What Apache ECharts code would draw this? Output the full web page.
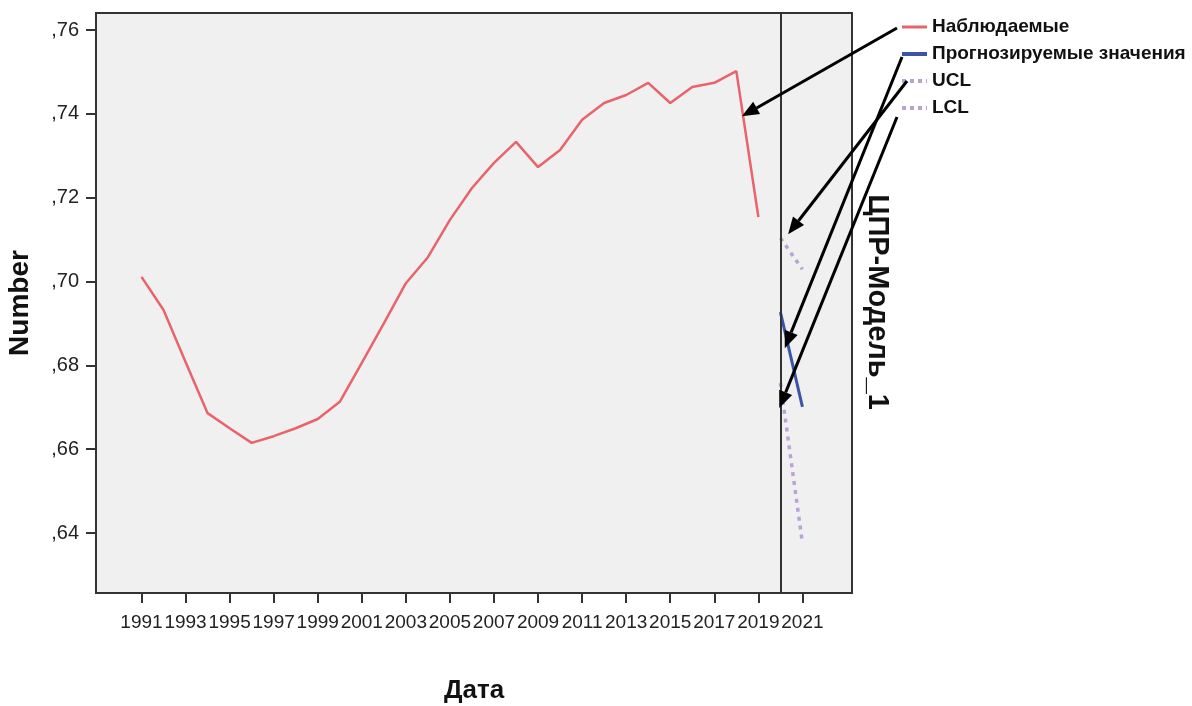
<!DOCTYPE html>
<html>
<head>
<meta charset="utf-8">
<script src="https://cdn.jsdelivr.net/npm/echarts@6/dist/echarts.min.js"></script>
<style>
html,body{margin:0;padding:0;background:#fff;}
#c{width:1192px;height:706px;}
</style>
</head>
<body>
<div id="c"></div>
<script>
// ---- data ----
const years = [1991,1992,1993,1994,1995,1996,1997,1998,1999,2000,2001,2002,2003,2004,2005,2006,2007,2008,2009,2010,2011,2012,2013,2014,2015,2016,2017,2018,2019];
const observed = [0.7011,0.6932,0.6808,0.6686,0.6650,0.6615,0.6631,0.6650,0.6672,0.6713,0.6806,0.6900,0.6996,0.7058,0.7147,0.7223,0.7283,0.7333,0.7273,0.7314,0.7386,0.7426,0.7445,0.7474,0.7426,0.7464,0.7474,0.7502,0.7154];
const forecastYears = [2020, 2021];
const forecast = [0.6927, 0.6701];
const ucl = [0.7104, 0.7029];
const lcl = [0.6758, 0.6376];
const xTickLabels = [1991,1993,1995,1997,1999,2001,2003,2005,2007,2009,2011,2013,2015,2017,2019,2021];
const yTickLabels = [0.64,0.66,0.68,0.70,0.72,0.74,0.76];
const forecastStart = 2020;
const seriesNames = ['Наблюдаемые','Прогнозируемые значения','UCL','LCL'];
const panelLabel = 'ЦПР-Модель_1';
// annotation arrows: tail in pixels (from legend), tip in data coords
const arrows = [
  {tail:[897,28], tip:[2018.25, 0.7394]},
  {tail:[902,57], tip:[2020.2, 0.6841]},
  {tail:[907,81], tip:[2020.35, 0.7113]},
  {tail:[897,117], tip:[2019.95, 0.6698]}
];

const pair = (xs, ys) => xs.map((x,i)=>[x, ys[i]]);

const chart = echarts.init(document.getElementById('c'));
const axisColor = '#333';
const red = '#e8636a', blue = '#3a55a6', lilac = '#b7a4d4';
chart.setOption({
  animation:false,
  backgroundColor:'#fff',
  grid:{left:96, top:13, width:756, height:580, show:true, backgroundColor:'#f0f0f0', borderColor:axisColor, borderWidth:2,
        containLabel:false, outerBoundsMode:'none'},
  legend:{
    orient:'vertical', left:900, top:17, padding:0, itemWidth:25, itemHeight:14, itemGap:7,
    data:[
      {name:seriesNames[0], lineStyle:{width:3, color:red}},
      {name:seriesNames[1], lineStyle:{width:4, color:blue}},
      {name:seriesNames[2], lineStyle:{width:4, color:lilac, type:[4,4]}},
      {name:seriesNames[3], lineStyle:{width:4, color:lilac, type:[4,4]}}
    ],
    itemStyle:{opacity:0},
    textStyle:{fontFamily:'Liberation Sans', fontWeight:'bold', fontSize:19, color:'#111', lineHeight:20}
  },
  xAxis:{
    type:'value', min:1988.935, max:2023.25,
    splitLine:{show:false},
    axisLine:{show:true, lineStyle:{color:axisColor, width:2}},
    axisTick:{show:true, length:10, customValues:xTickLabels, lineStyle:{color:axisColor, width:2}},
    axisLabel:{customValues:xTickLabels, showMinLabel:true, showMaxLabel:true, hideOverlap:false,
      formatter:v=>String(v), margin:20, color:'#222', fontFamily:'Liberation Sans', fontSize:19},
    name:'Дата', nameLocation:'middle', nameGap:85,
    nameTextStyle:{fontFamily:'Liberation Sans', fontWeight:'bold', fontSize:26, color:'#111'}
  },
  yAxis:{
    type:'value', min:0.62569, max:0.76406,
    splitLine:{show:false},
    axisLine:{show:true, lineStyle:{color:axisColor, width:2}},
    axisTick:{show:true, length:10, customValues:yTickLabels, lineStyle:{color:axisColor, width:2}},
    axisLabel:{customValues:yTickLabels, showMinLabel:true, showMaxLabel:true,
      formatter:v=>','+v.toFixed(2).slice(2), margin:17, color:'#222', fontFamily:'Liberation Sans', fontSize:20},
    name:'Number', nameLocation:'middle', nameGap:62, nameRotate:90,
    nameTextStyle:{fontFamily:'Liberation Sans', fontWeight:'bold', fontSize:28, color:'#111'}
  },
  series:[
    {name:seriesNames[0], type:'line', data:pair(years, observed), symbol:'none',
     lineStyle:{color:red, width:2.5}, itemStyle:{color:red},
     markLine:{silent:true, symbol:'none', label:{show:false}, data:[{xAxis:forecastStart}],
       lineStyle:{color:axisColor, width:2, type:'solid'}}},
    {name:seriesNames[1], type:'line', data:pair(forecastYears, forecast), symbol:'none',
     lineStyle:{color:blue, width:3}, itemStyle:{color:blue}},
    {name:seriesNames[2], type:'line', data:pair(forecastYears, ucl), symbol:'none',
     lineStyle:{color:lilac, width:3.5, type:[4,5]}, itemStyle:{color:lilac}},
    {name:seriesNames[3], type:'line', data:pair(forecastYears, lcl), symbol:'none',
     lineStyle:{color:lilac, width:3.5, type:[4,5]}, itemStyle:{color:lilac}}
  ]
});

// annotation graphics
const g = [];
g.push({type:'text', x:877, y:302, rotation:-Math.PI/2,
  style:{text:panelLabel, align:'center', verticalAlign:'middle', fill:'#111',
         font:'bold 29px "Liberation Sans"'}});
arrows.forEach(a=>{
  const tip = chart.convertToPixel({gridIndex:0}, a.tip);
  const [tx,ty] = a.tail;
  const dx = tip[0]-tx, dy = tip[1]-ty;
  const len = Math.sqrt(dx*dx+dy*dy);
  const ux = dx/len, uy = dy/len;
  const headL = 17, headW = 7;
  const bx = tip[0]-ux*headL, by = tip[1]-uy*headL;
  g.push({type:'line', shape:{x1:tx, y1:ty, x2:bx, y2:by}, style:{stroke:'#000', lineWidth:3}, z:100});
  g.push({type:'polygon', shape:{points:[[tip[0],tip[1]],[bx-uy*headW, by+ux*headW],[bx+uy*headW, by-ux*headW]]},
    style:{fill:'#000'}, z:100});
});
chart.setOption({graphic:g});
</script>
</body>
</html>
